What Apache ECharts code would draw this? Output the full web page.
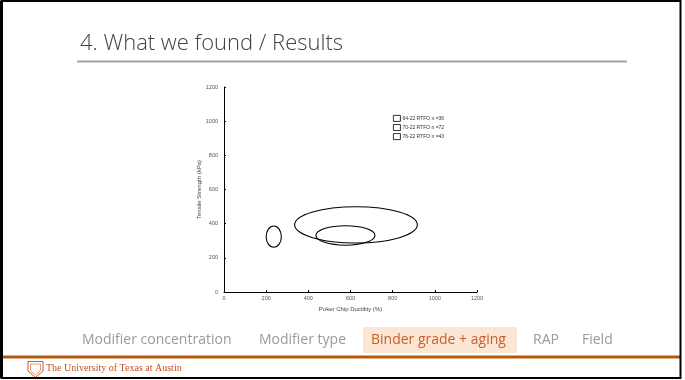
<!DOCTYPE html>
<html>
<head>
<meta charset="utf-8">
<script src="https://cdn.jsdelivr.net/npm/echarts@6/dist/echarts.min.js"></script>
<style>html,body{margin:0;padding:0;background:#fff;}#c{width:685px;height:380px;}</style>
</head>
<body>
<div id="c"></div>
<script>
// ---- data ----
const seriesNames = ['64-22 RTFO n =36', '70-22 RTFO n =72', '76-22 RTFO n =43'];
const centerX = [236, 626, 576];   // Poker Chip Ductility (%)
const centerY = [324, 393, 331];   // Tensile Strength (kPa)
const radiusX = [36, 291, 140];
const radiusY = [62, 106, 57];
const xTicks = [0, 200, 400, 600, 800, 1000, 1200];
const yTicks = [0, 200, 400, 600, 800, 1000, 1200];
const navItems = ['Modifier concentration', 'Modifier type', 'Binder grade + aging', 'RAP', 'Field'];
const navX = [82, 259, 371, 533, 582];
const activeNav = 2;

const chart = echarts.init(document.getElementById('c'), null, {renderer: 'canvas'});

const series = seriesNames.map((n, i) => ({
  name: n,
  type: 'custom',
  coordinateSystem: 'cartesian2d',
  data: [[centerX[i], centerY[i], radiusX[i], radiusY[i]]],
  itemStyle: {color: '#fff', borderColor: '#000'},
  renderItem: function (params, api) {
    const c = api.coord([api.value(0), api.value(1)]);
    const s = api.size([api.value(2), api.value(3)]);
    return {
      type: 'ellipse',
      shape: {cx: c[0], cy: c[1], rx: s[0], ry: s[1]},
      style: {fill: 'none', stroke: '#000', lineWidth: 1.1}
    };
  }
}));

const graphics = [
  {type: 'rect', shape: {x: 1.5, y: 1, width: 679, height: 377}, style: {fill: 'none', stroke: '#000', lineWidth: 2}, z: 100},
  {type: 'line', shape: {x1: 1.5, y1: 1, x2: 1.5, y2: 378}, style: {stroke: '#000', lineWidth: 3}, z: 100},
  {type: 'text', left: 80, top: 33, style: {text: '4. What we found / Results', font: '300 22px "Open Sans"', fill: '#404040'}},
  {type: 'line', shape: {x1: 77, y1: 61.5, x2: 627, y2: 61.5}, style: {stroke: '#a3a3a3', lineWidth: 2}},
  {type: 'rect', shape: {x: 363, y: 327, width: 154, height: 26}, style: {fill: '#fbe5d3'}},
  {type: 'line', shape: {x1: 3, y1: 357, x2: 680, y2: 357}, style: {stroke: '#b5590a', lineWidth: 3}},
  {type: 'polygon', shape: {points: [[28, 361.5], [43, 361.5], [43, 371], [35.5, 377.5], [28, 371]]}, style: {fill: 'none', stroke: '#c9582a', lineWidth: 1}},
  {type: 'polygon', shape: {points: [[30.5, 364], [40.5, 364], [40.5, 370.5], [35.5, 375], [30.5, 370.5]]}, style: {fill: 'none', stroke: '#d9825a', lineWidth: 0.8}},
  {type: 'text', left: 46, top: 363, style: {text: 'The University of Texas at Austin', font: '10px "Liberation Serif"', fill: '#c0501f'}}
];
navItems.forEach((t, i) => {
  graphics.push({type: 'text', left: navX[i], top: 333,
    style: {text: t, font: '14px "Open Sans"', fill: i === activeNav ? '#c6602e' : '#9a9a9a'}});
});

chart.setOption({
  backgroundColor: '#fff',
  animation: false,
  graphic: graphics,
  legend: {
    orient: 'vertical',
    left: 393, top: 115,
    padding: 0,
    itemWidth: 7, itemHeight: 6, itemGap: 2.3,
    textStyle: {fontSize: 5, color: '#333', fontFamily: 'Liberation Sans', padding: [0, 0, 0, -3]},
    data: seriesNames.map(n => ({name: n, icon: 'rect', itemStyle: {color: '#fff', borderColor: '#000', borderWidth: 0.8}}))
  },
  grid: {left: 224, top: 87, right: 208, bottom: 88},
  xAxis: {
    type: 'value', min: xTicks[0], max: xTicks[xTicks.length - 1], interval: 200,
    name: 'Poker Chip Ductility (%)', nameLocation: 'middle', nameGap: 10,
    nameTextStyle: {fontSize: 6, color: '#444', fontFamily: 'Liberation Sans'},
    axisLine: {show: true, lineStyle: {color: '#000', width: 1}},
    axisTick: {show: true, inside: true, length: 2, lineStyle: {color: '#000'}},
    axisLabel: {fontSize: 5.5, color: '#555', margin: 3, fontFamily: 'Liberation Sans', formatter: v => String(v)},
    splitLine: {show: false}
  },
  yAxis: {
    type: 'value', min: yTicks[0], max: yTicks[yTicks.length - 1], interval: 200,
    name: 'Tensile Strength (kPa)', nameLocation: 'middle', nameGap: 16,
    nameTextStyle: {fontSize: 6, color: '#444', fontFamily: 'Liberation Sans'},
    axisLine: {show: true, lineStyle: {color: '#000', width: 1}},
    axisTick: {show: true, inside: true, length: 2, lineStyle: {color: '#000'}},
    axisLabel: {fontSize: 5.5, color: '#555', margin: 6, fontFamily: 'Liberation Sans', formatter: v => String(v)},
    splitLine: {show: false}
  },
  series: series
});
</script>
</body>
</html>
